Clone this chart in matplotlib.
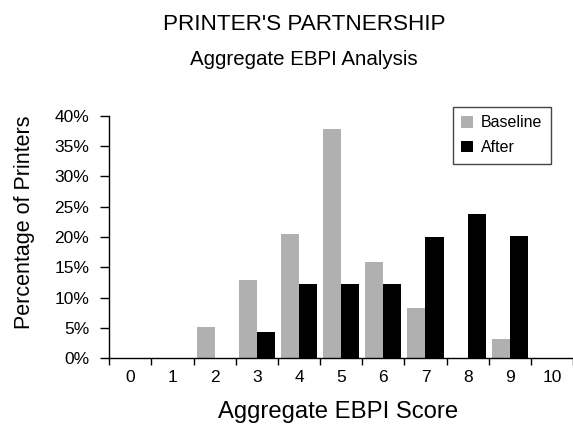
import numpy as np
import matplotlib
matplotlib.use('Agg')
import matplotlib.pyplot as plt

plt.rcParams['font.family'] = ['Liberation Sans', 'DejaVu Sans']

scores = list(range(11))
baseline = [0, 0, 5.1, 12.9, 20.5, 37.9, 15.9, 8.3, 0, 3.1, 0]
after = [0, 0, 0, 4.3, 12.2, 12.2, 12.2, 20.0, 23.8, 20.2, 0]
yticks = [0, 5, 10, 15, 20, 25, 30, 35, 40]

W, H = 573, 424
fig = plt.figure(figsize=(W / 100, H / 100), dpi=100)
# axes placed in pixel terms of the reference
ax = fig.add_axes([109.3 / W, (H - 358) / H, (W - 109.3) / W, (358 - 116) / H])

x = np.array(scores) + 0.5
bw = 0.43
ax.bar(x - bw / 2, baseline, bw, color='#b0b0b0', label='Baseline')
ax.bar(x + bw / 2, after, bw, color='black', label='After')

ax.set_xlim(0, (W - 109.3) / 42.67)
ax.set_ylim(0, 40)

ax.spines['top'].set_visible(False)
ax.spines['right'].set_visible(False)
ax.spines['left'].set_bounds(0, 40)
for s in ('left', 'bottom'):
    ax.spines[s].set_linewidth(1.0)

# tick marks on the slot edges, labels in the middle of each slot
ax.set_xticks(np.arange(0, 12))
ax.set_xticklabels([])
ax.set_xticks(x, [str(s) for s in scores], minor=True)
ax.tick_params(axis='x', which='major', direction='out', length=5, width=1)
ax.tick_params(axis='x', which='minor', length=0, pad=9, labelsize=12.5)

ax.set_yticks(yticks, [f'{v}%' for v in yticks])
ax.tick_params(axis='y', direction='out', length=6.5, width=1, pad=8, labelsize=12.5)

leg = ax.legend(loc='upper left', bbox_to_anchor=(452.7 / W, 1 - 106.7 / H),
                bbox_transform=fig.transFigure, borderaxespad=0, fontsize=11.5,
                fancybox=False, edgecolor='#444444', framealpha=1,
                handlelength=0.75, handleheight=0.75, handletextpad=0.45,
                labelspacing=0.6, borderpad=0.55)
leg.get_frame().set_linewidth(1.0)

fig.text(304 / W, 1 - 30 / H, "PRINTER'S PARTNERSHIP", ha='center', va='baseline', fontsize=16.2)
fig.text(304 / W, 1 - 65 / H, 'Aggregate EBPI Analysis', ha='center', va='baseline', fontsize=14.8)
fig.text(338 / W, 1 - 418 / H, 'Aggregate EBPI Score', ha='center', va='baseline', fontsize=17.2)
fig.text(25 / W, 1 - 222 / H, 'Percentage of Printers', ha='center', va='center',
         rotation=90, fontsize=15.5)

fig.savefig('out.png', dpi=100)
